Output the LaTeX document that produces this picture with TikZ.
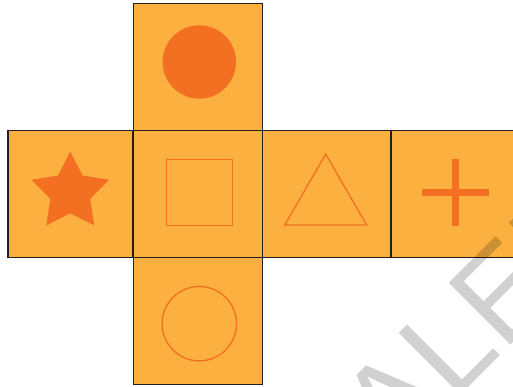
\documentclass[tikz,border=0pt]{standalone}
\usepackage{fontspec}
\usepackage{xcolor}
\usepackage{tikz}
\usetikzlibrary{calc}
\newfontfamily\wmfont{Liberation Sans}
\definecolor{cFace}{HTML}{FBB040}
\definecolor{cSymb}{HTML}{F36F21}
\definecolor{cEdge}{HTML}{231F20}
\tikzset{
  face/.style={draw=cEdge,fill=cFace,line width=1.2pt,minimum width=129pt,minimum height=127pt,inner sep=0pt},
  fullsym/.style={fill=cSymb,draw=none},
  linesym/.style={draw=cSymb,line width=1.3pt,inner sep=0pt},
  plusbar/.style={draw=cSymb,line width=7.3pt},
  wmark/.style={font=\wmfont\fontsize{127}{127}\selectfont,text=black,text opacity=0.18,inner sep=0pt,rotate=45,anchor=base west},
}

\begin{document}
\begin{tikzpicture}[x=1pt,y=1pt]
        \useasboundingbox (0,0) rectangle (513,387);
        \clip (0,0) rectangle (513,387);
        \node[face] (top) at (198,320) {};
        \node[face,minimum width=125pt] (left) at (70.5,193) {};
        \node[face] (front) at (198,193) {};
        \node[face] (right) at (327,193) {};
        \node[face] (back) at (455.5,193) {};
        \node[face] (bottom) at (198,66) {};
        \node[fullsym,circle,minimum size=73.4pt,inner sep=0pt] (dot) at ($(top)+(1.3,5)$) {};
        \coordinate (starc) at ($(left)+(-0.2,1.6)$);
        \fill[fullsym] (starc) +(90:40.7) \foreach \a in {0,72,...,288}{ -- +(126+\a:20.9) -- +(162+\a:40.7)} -- cycle;
        \node[linesym,minimum size=66pt] (box) at ($(front)+(1.5,1.7)$) {};
        \coordinate (tric) at ($(right)+(-1.3,-7.4)$);
        \draw[linesym] (tric) +(90:47.3) -- +(210:47.3) -- +(330:47.3) -- cycle;
        \coordinate (plusc) at ($(back)+(-0.2,1.3)$);
        \draw[plusbar] (plusc) +(-33.3,0) -- +(33.3,0) (plusc) +(0,-33.3) -- +(0,33.3);
        \node[linesym,circle,minimum size=74.4pt] (ring) at ($(bottom)+(1.3,-2.7)$) {};
        \node[wmark] (wm) at (393.8,-75.8) {ALED};
      \end{tikzpicture}
\end{document}
